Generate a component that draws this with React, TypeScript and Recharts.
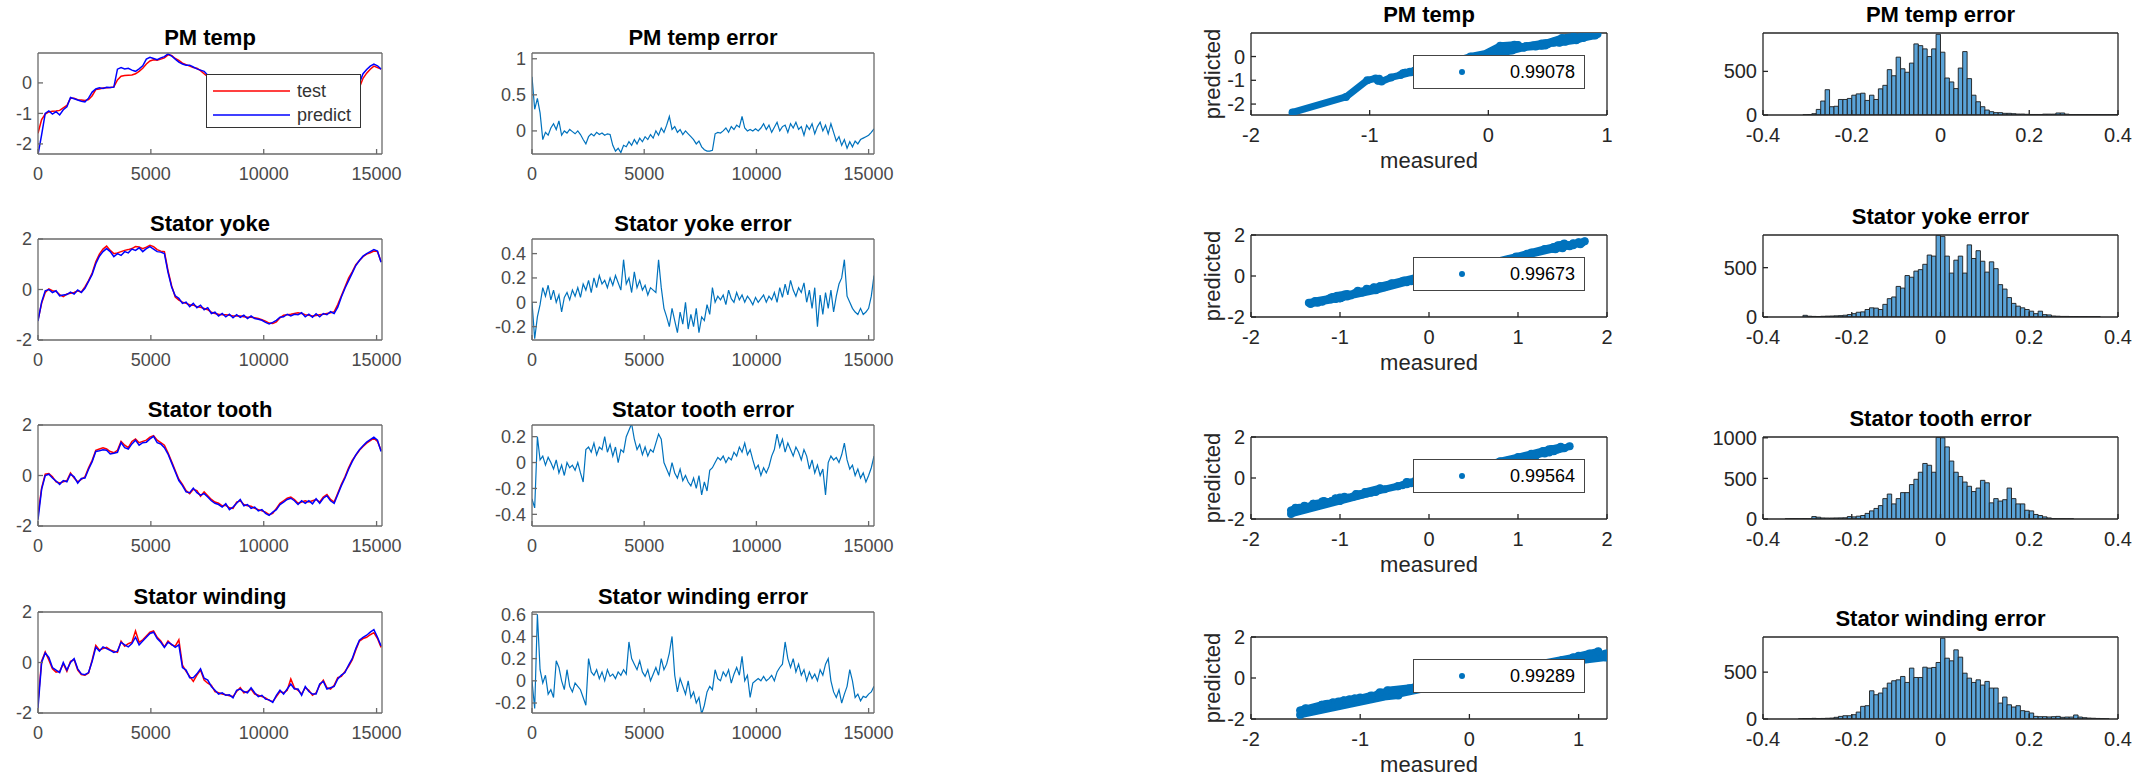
import React from 'react';
import { LineChart, Line, ScatterChart, Scatter, BarChart, Bar, XAxis, YAxis, Legend } from 'recharts';

const FONT = '"Liberation Sans", Arial, Helvetica, sans-serif';

// traces are kept every TRACE_STEP samples, error traces every ERROR_STEP samples
const TRACE_STEP = 160;
const ERROR_STEP = 120;
const SAMPLE_END = 15240;
const BIN_START = -0.4;
const BIN_WIDTH = 0.01;

const pmTest = [
  -1.65, -1.2, -1.02, -0.95, -0.93, -0.92, -0.9, -0.82, -0.74, -0.5,
  -0.5, -0.55, -0.56, -0.58, -0.55, -0.42, -0.22, -0.2, -0.17, -0.16,
  -0.15, -0.13, 0.1, 0.22, 0.24, 0.25, 0.26, 0.3, 0.38, 0.48,
  0.62, 0.72, 0.76, 0.74, 0.78, 0.82, 0.92, 0.9, 0.8, 0.74,
  0.65, 0.6, 0.55, 0.5, 0.48, 0.4, 0.3, 0.2, 0.1, 0.0,
  -0.1, -0.15, -0.22, -0.28, -0.32, -0.35, -0.4, -0.45, -0.5, -0.55,
  -0.6, -0.62, -0.65, -0.7, -0.72, -0.7, -0.66, -0.62, -0.6, -0.58,
  -0.55, -0.52, -0.5, -0.48, -0.46, -0.45, -0.44, -0.42, -0.42, -0.4,
  -0.4, -0.38, -0.36, -0.35, -0.35, -0.34, -0.33, -0.3, -0.25, -0.15,
  0.15, 0.32, 0.45, 0.55, 0.5, 0.45,
];
const pmPredict = [
  -2.35, -1.7, -1.0, -0.92, -1.02, -0.94, -1.05, -0.88, -0.78, -0.48,
  -0.52, -0.56, -0.6, -0.62, -0.5, -0.3, -0.2, -0.16, -0.18, -0.14,
  -0.15, -0.14, 0.45, 0.5, 0.46, 0.48, 0.42, 0.38, 0.46, 0.56,
  0.78, 0.84, 0.8, 0.76, 0.82, 0.86, 0.95, 0.88, 0.78, 0.68,
  0.62, 0.58, 0.58, 0.52, 0.46, 0.42, 0.38, 0.25, 0.12, 0.04,
  -0.12, -0.12, -0.2, -0.3, -0.3, -0.33, -0.38, -0.46, -0.48, -0.55,
  -0.58, -0.6, -0.66, -0.68, -0.7, -0.68, -0.64, -0.6, -0.62, -0.55,
  -0.56, -0.5, -0.48, -0.5, -0.44, -0.46, -0.42, -0.44, -0.4, -0.42,
  -0.38, -0.4, -0.35, -0.36, -0.33, -0.35, -0.3, -0.25, -0.15, 0.0,
  0.3, 0.44, 0.55, 0.62, 0.56, 0.45,
];

const yokeTest = [
  -1.2, -0.55, -0.12, 0.02, -0.05, -0.08, -0.2, -0.28, -0.18, -0.15,
  -0.12, -0.05, -0.1, 0.1, 0.35, 0.65, 1.1, 1.4, 1.6, 1.72,
  1.55, 1.42, 1.45, 1.5, 1.55, 1.58, 1.62, 1.7, 1.68, 1.62,
  1.68, 1.75, 1.7, 1.58, 1.52, 1.5, 0.75, 0.15, -0.3, -0.42,
  -0.5, -0.55, -0.6, -0.62, -0.68, -0.7, -0.75, -0.8, -0.9, -0.95,
  -0.98, -1.0, -1.0, -1.02, -1.05, -1.05, -1.05, -1.08, -1.1, -1.1,
  -1.12, -1.15, -1.2, -1.25, -1.33, -1.35, -1.28, -1.12, -1.02, -1.0,
  -0.98, -0.95, -0.92, -0.95, -1.0, -1.02, -1.05, -1.03, -1.0, -0.98,
  -0.95, -0.92, -0.88, -0.6, -0.25, 0.1, 0.45, 0.7, 0.98, 1.15,
  1.3, 1.4, 1.45, 1.52, 1.5, 1.1,
];
const yokePredict = [
  -1.25, -0.5, -0.05, 0.0, -0.12, -0.05, -0.25, -0.22, -0.2, -0.1,
  -0.18, -0.02, -0.12, 0.05, 0.32, 0.6, 1.02, 1.32, 1.5, 1.62,
  1.5, 1.3, 1.42, 1.35, 1.5, 1.45, 1.6, 1.55, 1.65, 1.5,
  1.62, 1.7, 1.6, 1.5, 1.48, 1.42, 0.68, 0.1, -0.25, -0.35,
  -0.55, -0.5, -0.68, -0.55, -0.72, -0.62, -0.8, -0.72, -0.95, -0.9,
  -1.05, -0.95, -1.08, -0.98, -1.12, -1.0, -1.1, -1.02, -1.15, -1.05,
  -1.15, -1.18, -1.22, -1.3, -1.36, -1.3, -1.22, -1.1, -1.08, -0.98,
  -1.05, -0.98, -1.0, -0.92, -1.08, -0.98, -1.1, -0.96, -1.08, -0.95,
  -1.0, -0.88, -0.95, -0.7, -0.3, 0.05, 0.35, 0.65, 0.95, 1.15,
  1.32, 1.42, 1.5, 1.58, 1.52, 1.08,
];

const toothTest = [
  -1.55, -0.5, 0.05, 0.08, -0.05, -0.25, -0.3, -0.25, -0.2, 0.1,
  -0.1, -0.25, -0.15, -0.05, 0.3, 0.6, 1.0, 1.05, 1.1, 1.05,
  0.95, 0.9, 1.0, 1.35, 1.2, 1.1, 1.35, 1.45, 1.3, 1.35,
  1.4, 1.52, 1.58, 1.4, 1.3, 1.2, 0.9, 0.55, 0.2, -0.15,
  -0.35, -0.6, -0.72, -0.55, -0.6, -0.82, -0.65, -0.8, -0.95, -1.05,
  -1.1, -1.2, -1.18, -1.28, -1.3, -1.05, -1.0, -1.15, -1.2, -1.22,
  -1.3, -1.35, -1.4, -1.45, -1.55, -1.5, -1.3, -1.1, -1.0, -0.9,
  -0.85, -0.95, -1.1, -1.05, -1.0, -1.05, -1.0, -0.95, -1.05, -0.85,
  -0.75, -0.95, -1.05, -0.7, -0.35, -0.05, 0.3, 0.6, 0.8, 1.0,
  1.15, 1.28, 1.38, 1.48, 1.35, 1.0,
];
const toothPredict = [
  -1.75, -0.55, 0.0, 0.05, -0.1, -0.22, -0.35, -0.2, -0.25, 0.05,
  -0.05, -0.3, -0.12, -0.1, 0.25, 0.55, 0.95, 0.98, 1.02, 1.0,
  0.85, 0.88, 0.92, 1.3, 1.1, 1.05, 1.25, 1.4, 1.2, 1.3,
  1.32, 1.45, 1.55, 1.3, 1.25, 1.1, 0.85, 0.5, 0.15, -0.2,
  -0.4, -0.65, -0.68, -0.5, -0.68, -0.78, -0.72, -0.85, -1.0, -1.1,
  -1.15, -1.25, -1.12, -1.35, -1.25, -1.1, -0.95, -1.2, -1.15, -1.3,
  -1.25, -1.4, -1.35, -1.5, -1.58, -1.45, -1.35, -1.15, -1.05, -0.95,
  -0.9, -1.0, -1.15, -1.0, -1.1, -1.0, -1.12, -0.92, -1.1, -0.9,
  -0.8, -1.0, -1.1, -0.75, -0.4, -0.1, 0.25, 0.55, 0.82, 1.02,
  1.18, 1.32, 1.42, 1.52, 1.4, 0.95,
];

const windingTest = [
  -1.55, 0.05, 0.42, 0.1, -0.25, -0.38, -0.35, -0.05, -0.35, 0.05,
  0.12, -0.3, -0.48, -0.5, -0.42, 0.1, 0.68, 0.5, 0.55, 0.6,
  0.5, 0.45, 0.4, 0.85, 0.65, 0.75, 0.8, 1.25, 0.8, 0.9,
  1.05, 1.2, 1.25, 1.0, 0.85, 0.62, 0.85, 0.7, 0.65, 0.9,
  -0.1, -0.35, -0.55, -0.75, -0.5, -0.3, -0.7, -0.82, -0.9, -1.15,
  -1.2, -1.25, -1.28, -1.32, -1.35, -1.15, -1.0, -1.2, -1.15, -1.05,
  -1.25, -1.3, -1.35, -1.4, -1.5, -1.55, -1.35, -1.15, -1.2, -1.1,
  -0.65, -1.0, -1.1, -1.25, -1.0, -1.1, -1.3, -1.2, -0.9, -0.7,
  -1.0, -1.05, -0.9, -0.6, -0.55, -0.35, -0.15, 0.1, 0.5, 0.85,
  0.95, 1.0, 1.1, 1.18, 0.95, 0.6,
];
const windingPredict = [
  -1.8, 0.0, 0.38, 0.2, -0.2, -0.3, -0.4, 0.0, -0.3, 0.0,
  0.15, -0.25, -0.45, -0.48, -0.4, 0.05, 0.6, 0.45, 0.62, 0.55,
  0.48, 0.4, 0.45, 0.8, 0.7, 0.62, 0.75, 1.0, 0.7, 0.85,
  1.0, 1.15, 1.2, 0.95, 0.8, 0.6, 0.8, 0.72, 0.6, 0.7,
  -0.2, -0.3, -0.6, -0.6, -0.45, -0.25, -0.62, -0.7, -0.95, -1.1,
  -1.25, -1.2, -1.3, -1.28, -1.4, -1.1, -1.05, -1.15, -1.2, -1.0,
  -1.2, -1.35, -1.3, -1.45, -1.48, -1.58, -1.3, -1.1, -1.25, -1.05,
  -0.85, -1.05, -1.05, -1.3, -0.95, -1.15, -1.25, -1.25, -0.85, -0.75,
  -1.05, -1.0, -0.95, -0.65, -0.5, -0.4, -0.1, 0.15, 0.55, 0.88,
  1.0, 1.08, 1.2, 1.3, 1.0, 0.65,
];

const pmError = [
  0.75, 0.3, 0.45, 0.25, -0.12, -0.02, -0.06, 0.04, 0.1, 0.02,
  0.14, -0.06, 0.0, -0.03, 0.02, -0.01, -0.04, 0.0, -0.05, -0.12,
  -0.18, -0.08, -0.04, -0.07, -0.02, -0.05, -0.03, -0.06, -0.04, -0.05,
  -0.2, -0.28, -0.24, -0.3, -0.2, -0.22, -0.15, -0.2, -0.12, -0.18,
  -0.1, -0.15, -0.08, -0.12, -0.05, -0.1, 0.0, -0.06, 0.04, -0.02,
  0.08, 0.2, 0.02, 0.06, -0.02, 0.02, -0.05, 0.0, -0.04, -0.08,
  -0.12, -0.18, -0.14, -0.22, -0.26, -0.28, -0.28, -0.27, -0.04, -0.02,
  -0.03, 0.0, 0.04, -0.02, 0.06, 0.02, 0.08, 0.05, 0.2, 0.04,
  0.0, 0.02, 0.0, 0.03, 0.0, 0.04, 0.1, 0.02, 0.08, -0.02,
  0.05, 0.12, 0.0, 0.06, 0.08, -0.02, 0.1, 0.04, 0.12, 0.02,
  0.06, -0.06, 0.08, 0.02, 0.1, -0.04, 0.06, 0.12, 0.0, 0.08,
  -0.04, 0.1, -0.02, -0.14, -0.08, -0.2, -0.12, -0.24, -0.15, -0.22,
  -0.14, -0.18, -0.12, -0.1, -0.08, -0.06, -0.02, 0.03,
];
const yokeError = [
  0.0, -0.3, -0.12, -0.02, 0.12, 0.05, 0.14, 0.02, 0.1, 0.0,
  0.06, -0.08, 0.04, 0.08, 0.02, 0.1, 0.05, 0.12, 0.04, 0.15,
  0.1, 0.18, 0.08, 0.2, 0.12, 0.22, 0.15, 0.18, 0.12, 0.2,
  0.14, 0.22, 0.16, 0.1, 0.35, 0.15, 0.2, 0.08, 0.25, 0.12,
  0.18, 0.1, 0.14, 0.06, 0.12, 0.1, 0.08, 0.35, 0.12, -0.05,
  -0.12, -0.2, -0.05, -0.15, -0.25, -0.08, -0.18, 0.0, -0.22, -0.1,
  -0.2, -0.05, -0.25, -0.12, -0.15, -0.02, -0.1, 0.12, 0.0, 0.05,
  0.02, 0.06, -0.02, 0.1, 0.03, 0.0, 0.08, 0.02, 0.06, 0.0,
  0.05, 0.02, -0.02, 0.04, 0.0, 0.03, 0.06, 0.0, 0.05, 0.02,
  0.08, 0.0, 0.12, 0.04, 0.15, 0.06, 0.18, 0.1, 0.05, 0.12,
  0.08, 0.16, 0.0, 0.1, -0.05, 0.12, -0.2, 0.06, -0.1, 0.08,
  -0.05, 0.1, -0.08, 0.05, 0.15, 0.2, 0.35, 0.05, 0.0, -0.05,
  -0.08, -0.1, -0.05, -0.1, -0.08, -0.05, 0.05, 0.22,
];
const toothError = [
  -0.28, -0.35, 0.2, 0.02, 0.05, -0.02, 0.04, 0.0, -0.05, 0.02,
  -0.08, -0.02, -0.1, 0.0, -0.04, -0.02, -0.06, 0.0, -0.08, -0.15,
  0.1, 0.12, 0.08, 0.15, 0.06, 0.12, 0.1, 0.2, 0.08, 0.14,
  0.05, 0.12, 0.0, 0.1, 0.08, 0.2, 0.25, 0.3, 0.18, 0.1,
  0.14, 0.06, 0.12, 0.05, 0.1, 0.08, 0.15, 0.22, 0.18, 0.0,
  -0.05, -0.1, 0.0, -0.08, -0.12, -0.05, -0.14, -0.1, -0.15, -0.18,
  -0.12, -0.2, -0.1, -0.25, -0.15, -0.22, -0.06, -0.04, 0.0, 0.04,
  0.02, 0.05, 0.0, 0.04, 0.02, 0.08, 0.05, 0.12, 0.08, 0.15,
  0.06, 0.1, 0.02, -0.05, -0.02, -0.1, -0.04, -0.08, -0.03, 0.05,
  0.1, 0.22, 0.12, 0.18, 0.08, 0.15, 0.1, 0.05, 0.12, 0.08,
  0.02, 0.1, 0.05, -0.05, 0.02, -0.08, -0.02, -0.1, -0.05, -0.25,
  0.0, 0.05, 0.02, 0.04, 0.0, 0.06, 0.15, 0.02, -0.05, -0.02,
  -0.1, -0.05, -0.12, -0.08, -0.15, -0.1, -0.04, 0.05,
];
const windingError = [
  0.0, -0.25, 0.6, 0.1, -0.02, 0.05, -0.12, -0.08, -0.15, 0.18,
  0.12, 0.0, -0.08, 0.1, -0.05, -0.1, -0.02, -0.05, -0.08, -0.15,
  -0.22, 0.2, 0.08, 0.05, 0.1, 0.02, 0.08, 0.0, 0.1, 0.04,
  0.06, 0.02, 0.08, 0.05, 0.1, 0.06, 0.35, 0.2, 0.15, 0.1,
  0.18, 0.08, 0.04, 0.1, 0.0, 0.06, 0.12, 0.05, 0.2, 0.1,
  0.15, 0.25, 0.4, 0.05, -0.1, 0.02, -0.05, -0.12, 0.0, -0.15,
  -0.1, -0.2, -0.15, -0.3, -0.22, -0.1, -0.05, -0.08, 0.1, 0.02,
  0.0, 0.08, 0.04, 0.1, -0.02, 0.06, 0.12, 0.05, 0.22, 0.0,
  0.05, -0.15, -0.02, 0.0, 0.02, 0.0, 0.04, 0.0, 0.02, 0.05,
  0.0, 0.08, 0.12, 0.15, 0.35, 0.2, 0.12, 0.2, 0.08, 0.15,
  0.05, 0.1, 0.0, 0.08, 0.02, 0.06, 0.0, 0.1, 0.05, 0.15,
  0.2, 0.0, -0.1, -0.15, -0.08, -0.2, -0.12, -0.05, 0.1, 0.0,
  -0.15, -0.12, -0.18, -0.14, -0.15, -0.12, -0.1, -0.05,
];

// histogram counts, one per 0.01 bin from -0.4 to 0.4
const pmHist = [
  0, 0, 0, 0, 0, 0, 0, 0, 0, 2,
  5, 15, 64, 160, 290, 95, 100, 178, 178, 190,
  227, 242, 250, 167, 227, 178, 300, 340, 520, 450,
  663, 530, 490, 595, 815, 795, 758, 670, 758, 925,
  720, 424, 379, 303, 538, 727, 417, 227, 152, 95,
  57, 38, 27, 27, 19, 19, 15, 11, 11, 8,
  6, 6, 6, 10, 10, 10, 23, 23, 10, 5,
  5, 5, 5, 5, 5, 5, 3, 3, 3, 3,
];
const yokeHist = [
  0, 0, 0, 0, 0, 0, 0, 0, 0, 17,
  8, 6, 5, 7, 9, 10, 12, 14, 18, 25,
  34, 48, 52, 76, 93, 90, 76, 128, 186, 203,
  310, 293, 420, 403, 465, 480, 534, 628, 617, 828,
  817, 617, 445, 576, 617, 445, 731, 593, 672, 565,
  455, 559, 490, 328, 283, 197, 138, 110, 93, 76,
  59, 34, 59, 24, 21, 10, 8, 6, 6, 5,
  5, 4, 4, 3, 3, 3, 0, 0, 0, 0,
];
const toothHist = [
  0, 0, 0, 0, 0, 3, 5, 5, 4, 5,
  4, 30, 22, 13, 12, 12, 13, 14, 15, 30,
  26, 35, 43, 69, 100, 130, 165, 251, 307, 186,
  251, 325, 325, 424, 489, 576, 684, 662, 576, 1005,
  1000, 888, 714, 576, 524, 455, 403, 338, 381, 476,
  446, 199, 251, 221, 238, 381, 251, 186, 186, 108,
  100, 56, 43, 26, 13, 5, 3, 3, 2, 2,
  0, 0, 0, 0, 0, 0, 0, 0, 0, 0,
];
const windingHist = [
  0, 0, 0, 0, 0, 0, 0, 0, 3, 5,
  5, 7, 5, 6, 8, 10, 18, 28, 35, 35,
  46, 74, 135, 142, 301, 259, 277, 330, 383, 408,
  418, 454, 390, 543, 443, 443, 553, 543, 550, 603,
  862, 649, 621, 738, 660, 489, 436, 390, 418, 362,
  401, 330, 330, 170, 234, 152, 128, 142, 89, 82,
  64, 28, 25, 25, 22, 25, 28, 18, 21, 21,
  43, 21, 14, 10, 8, 6, 4, 2, 0, 0,
];

const targets = ['PM temp', 'Stator yoke', 'Stator tooth', 'Stator winding'];
const seriesNames = ['test', 'predict'];
const fitScores = ['0.99078', '0.99673', '0.99564', '0.99289'];
const sampleTicks = [0, 5000, 10000, 15000];
const binTicks = [-0.4, -0.2, 0, 0.2, 0.4];

const tracePanels = [
  { test: pmTest, predict: pmPredict, yDomain: [-2.33, 0.98], yTicks: [-2, -1, 0], legend: true },
  { test: yokeTest, predict: yokePredict, yDomain: [-2, 2], yTicks: [-2, 0, 2], legend: false },
  { test: toothTest, predict: toothPredict, yDomain: [-2, 2], yTicks: [-2, 0, 2], legend: false },
  { test: windingTest, predict: windingPredict, yDomain: [-2, 2], yTicks: [-2, 0, 2], legend: false },
];
const errorPanels = [
  { values: pmError, yDomain: [-0.32, 1.08], yTicks: [0, 0.5, 1] },
  { values: yokeError, yDomain: [-0.31, 0.52], yTicks: [-0.2, 0, 0.2, 0.4] },
  { values: toothError, yDomain: [-0.49, 0.29], yTicks: [-0.4, -0.2, 0, 0.2] },
  { values: windingError, yDomain: [-0.29, 0.62], yTicks: [-0.2, 0, 0.2, 0.4, 0.6] },
];
const scatterPanels = [
  { xDomain: [-2, 1], xTicks: [-2, -1, 0, 1], yDomain: [-2.46, 0.99], yTicks: [-2, -1, 0] },
  { xDomain: [-2, 2], xTicks: [-2, -1, 0, 1, 2], yDomain: [-2, 2], yTicks: [-2, 0, 2] },
  { xDomain: [-2, 2], xTicks: [-2, -1, 0, 1, 2], yDomain: [-2, 2], yTicks: [-2, 0, 2] },
  { xDomain: [-2, 1.26], xTicks: [-2, -1, 0, 1], yDomain: [-2, 2], yTicks: [-2, 0, 2] },
];
const histPanels = [
  { counts: pmHist, yMax: 940, yTicks: [0, 500] },
  { counts: yokeHist, yMax: 831, yTicks: [0, 500] },
  { counts: toothHist, yMax: 1010, yTicks: [0, 500, 1000] },
  { counts: windingHist, yMax: 875, yTicks: [0, 500] },
];

// page layout: plot boxes in pixels
const LEFT_TOPS = [53, 239, 425, 612];
const RIGHT_TOPS = [33, 235, 437, 637];
const LEFT_H = 101;
const RIGHT_H = 82;
const COL_TRACE = { x: 38, w: 344 };
const COL_ERROR = { x: 532, w: 342 };
const COL_SCATTER = { x: 1251, w: 356 };
const COL_HIST = { x: 1763, w: 355 };

const PAD_L = 78;
const PAD_R = 40;
const PAD_T = 16;
const MARGIN = { top: PAD_T - 1, right: PAD_R - 1, bottom: 0, left: 0 };

type Frame = { x: number; y: number; w: number; h: number };
type Look = { fontSize: number; text: string; line: string; xGap: number; yGap: number };

const LEFT_LOOK: Look = { fontSize: 18, text: '#4a4a4a', line: '#6a6a6a', xGap: 13, yGap: 6 };
const RIGHT_LOOK: Look = { fontSize: 20, text: '#262626', line: '#262626', xGap: 13, yGap: 6 };

const TICK_LEN = 5;

// bottom/left axes carry the labels, top/right axes close the box with inward ticks
function frameAxes(o: {
  look: Look;
  xKey: string;
  yKey: string;
  xDomain: number[];
  xTicks: number[];
  yDomain: number[];
  yTicks: number[];
  xHeight: number;
  xLabel?: string;
  yLabel?: string;
}) {
  const { look } = o;
  const tickStyle = { fontSize: look.fontSize, fill: look.text, fontFamily: FONT };
  const stroke = { stroke: look.line, strokeWidth: 1.3 };
  const labelStyle = { fontSize: 22, fill: look.text, fontFamily: FONT };
  return [
    <XAxis
      key="xb"
      xAxisId={0}
      dataKey={o.xKey}
      type="number"
      domain={o.xDomain}
      ticks={o.xTicks}
      interval={0}
      allowDataOverflow
      height={o.xHeight}
      tickSize={-TICK_LEN}
      tickMargin={TICK_LEN + look.xGap}
      tick={tickStyle}
      axisLine={stroke}
      tickLine={stroke}
      label={o.xLabel ? { value: o.xLabel, position: 'insideBottom', offset: 7, ...labelStyle } : undefined}
    />,
    <XAxis
      key="xt"
      xAxisId="top"
      orientation="top"
      type="number"
      domain={o.xDomain}
      ticks={o.xTicks}
      interval={0}
      allowDataOverflow
      height={1}
      tickSize={-TICK_LEN}
      tick={false}
      axisLine={stroke}
      tickLine={stroke}
    />,
    <YAxis
      key="yl"
      yAxisId={0}
      dataKey={o.yKey}
      type="number"
      domain={o.yDomain}
      ticks={o.yTicks}
      interval={0}
      allowDataOverflow
      width={PAD_L}
      tickSize={-TICK_LEN}
      tickMargin={TICK_LEN + look.yGap}
      tick={tickStyle}
      axisLine={stroke}
      tickLine={stroke}
      label={o.yLabel ? { value: o.yLabel, angle: -90, position: 'center', ...labelStyle } : undefined}
    />,
    <YAxis
      key="yr"
      yAxisId="right"
      orientation="right"
      type="number"
      domain={o.yDomain}
      ticks={o.yTicks}
      interval={0}
      allowDataOverflow
      width={1}
      tickSize={-TICK_LEN}
      tick={false}
      axisLine={stroke}
      tickLine={stroke}
    />,
  ];
}

function Title({ frame, text, lift }: { frame: Frame; text: string; lift: number }) {
  return (
    <div
      style={{
        position: 'absolute',
        left: frame.x - 60,
        width: frame.w + 120,
        top: frame.y - lift - 13,
        height: 26,
        lineHeight: '26px',
        textAlign: 'center',
        fontFamily: FONT,
        fontWeight: 700,
        fontSize: 22,
        color: '#000',
        whiteSpace: 'nowrap',
      }}
    >
      {text}
    </div>
  );
}

type KeyItem = { value: string; color: string };

function TraceKey({ payload }: { payload?: KeyItem[] }) {
  // keep the plotting order (test, then predict) in the key
  const items = [...(payload || [])].sort((a, b) => seriesNames.indexOf(a.value) - seriesNames.indexOf(b.value));
  return (
    <div
      style={{
        width: 155,
        height: 54,
        boxSizing: 'border-box',
        paddingTop: 4,
        border: '1px solid #333',
        background: '#fff',
        fontFamily: FONT,
        fontSize: 18,
        color: '#333',
      }}
    >
      {items.map((p) => (
        <div key={p.value} style={{ display: 'flex', alignItems: 'center', height: 24 }}>
          <svg width={90} height={6} style={{ flex: 'none' }}>
            <line x1={6} x2={83} y1={3} y2={3} stroke={p.color} strokeWidth={1.6} />
          </svg>
          <span>{p.value}</span>
        </div>
      ))}
    </div>
  );
}

function ScoreKey({ payload }: { payload?: KeyItem[] }) {
  const p = payload && payload[0];
  return (
    <div
      style={{
        width: 172,
        height: 34,
        boxSizing: 'border-box',
        border: '1px solid #444',
        background: '#fff',
        position: 'relative',
        fontFamily: FONT,
        fontSize: 18,
        color: '#000',
      }}
    >
      <svg width={10} height={10} style={{ position: 'absolute', left: 43, top: 11 }}>
        <circle cx={5} cy={5} r={3} fill="#0072BD" />
      </svg>
      <span style={{ position: 'absolute', right: 9, top: 5, lineHeight: '22px' }}>{p ? p.value : ''}</span>
    </div>
  );
}

function TracePanel({ frame, idx }: { frame: Frame; idx: number }) {
  const cfg = tracePanels[idx];
  const padB = 40;
  const rows = cfg.test.map((v, i) => ({ t: i * TRACE_STEP, test: v, predict: cfg.predict[i] }));
  return (
    <div style={{ position: 'absolute', left: frame.x - PAD_L, top: frame.y - PAD_T }}>
      <LineChart width={PAD_L + frame.w + PAD_R} height={PAD_T + frame.h + padB} data={rows} margin={MARGIN}>
        {frameAxes({
          look: LEFT_LOOK,
          xKey: 't',
          yKey: 'test',
          xDomain: [0, SAMPLE_END],
          xTicks: sampleTicks,
          yDomain: cfg.yDomain,
          yTicks: cfg.yTicks,
          xHeight: padB,
        })}
        <Line type="linear" dataKey="test" name={seriesNames[0]} stroke="#ff0000" strokeWidth={1.5} dot={false} isAnimationActive={false} />
        <Line type="linear" dataKey="predict" name={seriesNames[1]} stroke="#0000ff" strokeWidth={1.5} dot={false} isAnimationActive={false} />
        {cfg.legend && (
          <Legend
            layout="horizontal"
            verticalAlign="middle"
            align="center"
            content={<TraceKey />}
            wrapperStyle={{ left: PAD_L + 168, top: PAD_T + 21, width: 155, height: 54 }}
          />
        )}
      </LineChart>
    </div>
  );
}

function ErrorPanel({ frame, idx }: { frame: Frame; idx: number }) {
  const cfg = errorPanels[idx];
  const padB = 40;
  const rows = cfg.values.map((v, i) => ({ t: i * ERROR_STEP, err: v }));
  return (
    <div style={{ position: 'absolute', left: frame.x - PAD_L, top: frame.y - PAD_T }}>
      <LineChart width={PAD_L + frame.w + PAD_R} height={PAD_T + frame.h + padB} data={rows} margin={MARGIN}>
        {frameAxes({
          look: LEFT_LOOK,
          xKey: 't',
          yKey: 'err',
          xDomain: [0, SAMPLE_END],
          xTicks: sampleTicks,
          yDomain: cfg.yDomain,
          yTicks: cfg.yTicks,
          xHeight: padB,
        })}
        <Line type="linear" dataKey="err" stroke="#0072BD" strokeWidth={1.2} dot={false} isAnimationActive={false} />
      </LineChart>
    </div>
  );
}

function ScatterPanel({ frame, idx }: { frame: Frame; idx: number }) {
  const cfg = scatterPanels[idx];
  const trace = tracePanels[idx];
  const padB = 60;
  // measured vs predicted pairs come from the same traces as the left column
  const points = trace.test.map((m, i) => ({ x: m, y: trace.predict[i] }));
  return (
    <div style={{ position: 'absolute', left: frame.x - PAD_L, top: frame.y - PAD_T }}>
      <ScatterChart width={PAD_L + frame.w + PAD_R} height={PAD_T + frame.h + padB} margin={MARGIN}>
        {frameAxes({
          look: RIGHT_LOOK,
          xKey: 'x',
          yKey: 'y',
          xDomain: cfg.xDomain,
          xTicks: cfg.xTicks,
          yDomain: cfg.yDomain,
          yTicks: cfg.yTicks,
          xHeight: padB,
          xLabel: 'measured',
          yLabel: 'predicted',
        })}
        <Scatter
          data={points}
          name={fitScores[idx]}
          fill="#0072BD"
          line={{ stroke: '#0072BD', strokeWidth: 7, strokeLinecap: 'round', strokeLinejoin: 'round' }}
          lineType="joint"
          isAnimationActive={false}
          shape={(p: any) => <circle cx={p.cx} cy={p.cy} r={4} fill="#0072BD" />}
        />
        <Legend
          layout="horizontal"
          verticalAlign="middle"
          align="center"
          content={<ScoreKey />}
          wrapperStyle={{ left: PAD_L + 162, top: PAD_T + 22, width: 172, height: 34 }}
        />
      </ScatterChart>
    </div>
  );
}

function HistPanel({ frame, idx }: { frame: Frame; idx: number }) {
  const cfg = histPanels[idx];
  const padB = 40;
  const bins = cfg.counts.map((n, k) => ({ c: BIN_START + BIN_WIDTH * (k + 0.5), n }));
  const barPx = (frame.w * BIN_WIDTH) / 0.8 - 0.01;
  return (
    <div style={{ position: 'absolute', left: frame.x - PAD_L, top: frame.y - PAD_T }}>
      <BarChart
        width={PAD_L + frame.w + PAD_R}
        height={PAD_T + frame.h + padB}
        data={bins}
        barGap={0}
        barCategoryGap={0}
        margin={MARGIN}
      >
        {frameAxes({
          look: RIGHT_LOOK,
          xKey: 'c',
          yKey: 'n',
          xDomain: [-0.4, 0.4],
          xTicks: binTicks,
          yDomain: [0, cfg.yMax],
          yTicks: cfg.yTicks,
          xHeight: padB,
        })}
        <Bar dataKey="n" fill="#5AA3D8" stroke="#1c1c1c" strokeWidth={0.9} barSize={barPx} isAnimationActive={false} />
      </BarChart>
    </div>
  );
}

export default function App() {
  return (
    <div
      style={{
        position: 'absolute',
        left: 0,
        top: 0,
        width: 2144,
        height: 780,
        background: '#fff',
        overflow: 'hidden',
        fontFamily: FONT,
      }}
    >
      {targets.map((name, i) => {
        const trace = { ...COL_TRACE, y: LEFT_TOPS[i], h: LEFT_H };
        const error = { ...COL_ERROR, y: LEFT_TOPS[i], h: LEFT_H };
        const scatter = { ...COL_SCATTER, y: RIGHT_TOPS[i], h: RIGHT_H };
        const hist = { ...COL_HIST, y: RIGHT_TOPS[i], h: RIGHT_H };
        return (
          <React.Fragment key={name}>
            <TracePanel frame={trace} idx={i} />
            <ErrorPanel frame={error} idx={i} />
            <ScatterPanel frame={scatter} idx={i} />
            <HistPanel frame={hist} idx={i} />
            <Title frame={trace} text={name} lift={15} />
            <Title frame={error} text={`${name} error`} lift={15} />
            {i === 0 && <Title frame={scatter} text={name} lift={18} />}
            <Title frame={hist} text={`${name} error`} lift={18} />
          </React.Fragment>
        );
      })}
    </div>
  );
}
